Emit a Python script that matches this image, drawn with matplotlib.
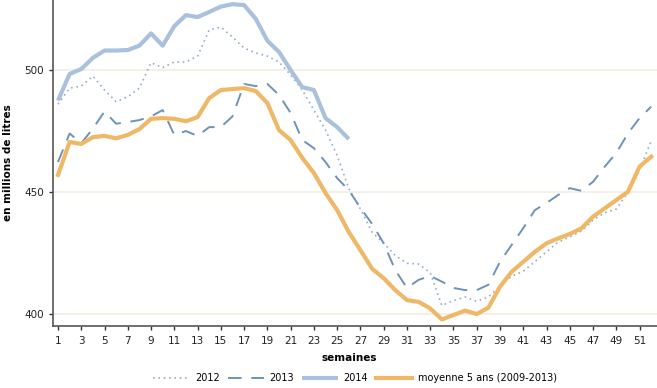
import matplotlib
matplotlib.use("Agg")
import matplotlib.pyplot as plt
from matplotlib.ticker import FixedLocator

weeks = list(range(1, 53))

s2012 = [486, 492.6, 493.4, 497.5, 491.8, 487, 489, 492.6, 503, 501,
         503.3, 503.3, 505.7, 516.4, 517.6, 513.5, 509, 507, 505.7, 503.3,
         498, 491.8, 483.6, 475.4, 465, 451.5, 443, 433.6, 429, 424,
         420.8, 420.5, 417, 403.5, 405.5, 407, 405.2, 407, 411.5, 415.5,
         417.5, 421.5, 425.5, 429.5, 431.6, 434, 438.5, 441.5, 443, 449.8,
         459, 471]
s2013 = [462.3, 474, 470, 476, 483, 478, 478.7, 479.5, 481, 483.6,
         473.4, 475, 473, 476.6, 476.6, 481, 494.3, 493.4, 494.3, 489.8,
         482.4, 471.3, 468, 462.3, 455.7, 450.8, 443.5, 437, 429, 418,
         410.7, 414, 415.6, 413.3, 410.7, 409.8, 409.8, 412, 421.4, 428.3,
         435.2, 442.6, 445.5, 448.8, 451.6, 450.5, 454.2, 460.4, 466, 474,
         480.3, 485]
s2014 = [487.5, 498.4, 500.4, 505, 508, 508, 508.2, 510, 515, 510,
         518, 522.5, 521.7, 523.8, 526, 527, 526.6, 521, 512, 507.4,
         500, 493, 491.8, 480.3, 476.6, 471.7]
moyenne = [457, 470.5, 469.7, 472.5, 473, 472, 473.4, 475.8, 480, 480.3,
           480, 479, 480.7, 488.5, 491.8, 492.2, 492.6, 491.4, 486.5, 475.4,
           471.3, 464, 457.8, 449.6, 442.6, 433.6, 426.2, 418.6, 414.7, 409.8,
           405.7, 405, 402.3, 397.8, 399.6, 401.4, 400, 402.6, 411.2, 417.3,
           421.4, 425.5, 429, 431, 432.8, 435.1, 439.9, 443.3, 446.7, 450.1,
           460.4, 464.5]

labels = ["2012", "2013", "2014", "moyenne 5 ans (2009-2013)"]
yticks = [400, 450, 500]
xticks = list(range(1, 52, 2))

fig = plt.figure(figsize=(6.57, 3.88), dpi=100)
ax = fig.add_axes([53/657, 1 - 326/388, (657 - 53)/657, 326/388])

ax.plot(weeks, s2012, color="#94aecd", lw=1.2, ls=(0, (1, 2.2)), label=labels[0])
ax.plot(weeks, s2013, color="#6e93b6", lw=1.4, ls=(0, (7, 5)), label=labels[1])
ax.plot(weeks[:len(s2014)], s2014, color="#a9c1dd", lw=3.0, solid_capstyle="butt", label=labels[2])
ax.plot(weeks, moyenne, color="#efb866", lw=3.0, label=labels[3])

ax.set_xlim(0.57, 52.5)
ax.set_ylim(395.1, 528.7)
ax.xaxis.set_major_locator(FixedLocator(xticks))
ax.yaxis.set_major_locator(FixedLocator(yticks))
ax.tick_params(axis="both", labelsize=7.5, colors="#333333", length=3, width=1, direction="out")
ax.tick_params(axis="x", pad=4)
for t in ax.get_xticklabels() + ax.get_yticklabels():
    t.set_color("#222222")
ax.grid(axis="y", color="#f2eee2", lw=1.2)
ax.set_axisbelow(True)
for side in ["top", "right"]:
    ax.spines[side].set_visible(False)
for side in ["left", "bottom"]:
    ax.spines[side].set_color("#555555")
    ax.spines[side].set_linewidth(1.2)

ax.set_ylabel("en millions de litres", fontsize=7.5, fontweight="bold")
ax.yaxis.set_label_coords((13 - 53)/604, 0.5)
fig.text(349/657, 1 - 358/388, "semaines", fontsize=7.5, fontweight="bold", ha="center", va="center")

fig.legend(loc="center", bbox_to_anchor=(355/657, 1 - 378/388), ncol=4, frameon=False,
           fontsize=7, handlelength=3.7, columnspacing=0.8, handletextpad=0.6)

fig.savefig("out.png", dpi=100)
